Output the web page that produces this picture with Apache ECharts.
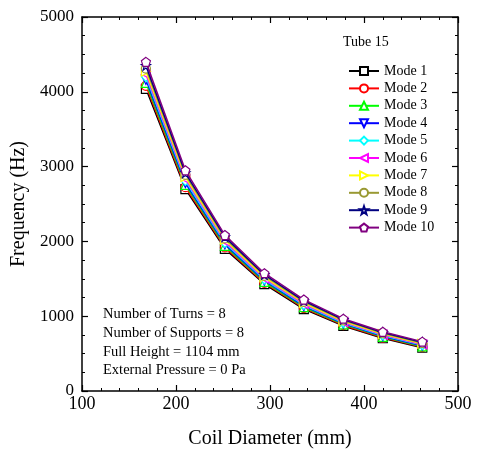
<!DOCTYPE html>
<html><head><meta charset="utf-8">
<script src="https://cdn.jsdelivr.net/npm/echarts@6/dist/echarts.min.js"></script>
<style>html,body{margin:0;padding:0;background:#fff}#c{width:477px;height:454px}</style>
</head><body><div id="c"></div>
<script>
var coilDiameter = [168, 210, 252, 294, 336, 378, 420, 462];
var mode1  = [4040, 2700, 1900, 1430, 1095, 870, 705, 578];
var mode2  = [4080, 2725, 1920, 1445, 1108, 880, 714, 587];
var mode3  = [4120, 2755, 1940, 1460, 1122, 891, 724, 596];
var mode4  = [4160, 2780, 1960, 1475, 1135, 901, 733, 605];
var mode5  = [4200, 2810, 1980, 1490, 1150, 912, 743, 614];
var mode6  = [4235, 2835, 2000, 1505, 1163, 923, 752, 623];
var mode7  = [4270, 2860, 2020, 1520, 1177, 933, 762, 632];
var mode8  = [4310, 2890, 2040, 1540, 1192, 944, 771, 641];
var mode9  = [4350, 2915, 2060, 1555, 1206, 955, 781, 650];
var mode10 = [4400, 2950, 2085, 1575, 1222, 967, 791, 660];
var seriesNames = ['Mode 1','Mode 2','Mode 3','Mode 4','Mode 5','Mode 6','Mode 7','Mode 8','Mode 9','Mode 10'];
var seriesValues = [mode1, mode2, mode3, mode4, mode5, mode6, mode7, mode8, mode9, mode10];
var xTicks = [100, 200, 300, 400, 500];
var yTicks = [0, 1000, 2000, 3000, 4000, 5000];
var infoLines = ['Number of Turns = 8', 'Number of Supports = 8', 'Full Height = 1104 mm', 'External Pressure = 0 Pa'];
var legendTitle = 'Tube 15';

var colors = ['#000000','#ff0000','#00ff00','#0000ff','#00ffff','#ff00ff','#ffff00','#999933','#000080','#800080'];
var symbols = [
  'rect', 'circle', 'triangle',
  'path://M-10,-8 L10,-8 L0,9 Z',
  'diamond',
  'path://M8,-10 L8,10 L-9,0 Z',
  'path://M-8,-10 L-8,10 L9,0 Z',
  'circle',
  'path://M0,-10 L2.35,-3.24 L9.51,-3.09 L3.8,1.24 L5.88,8.09 L0,4 L-5.88,8.09 L-3.8,1.24 L-9.51,-3.09 L-2.35,-3.24 Z',
  'path://M0,-10 L9.51,-3.09 L5.88,8.09 L-5.88,8.09 L-9.51,-3.09 Z'
];
var FONT = '"Liberation Serif", "Times New Roman", serif';

var series = seriesNames.map(function(n, i){
  return {
    name: n, type: 'line', xAxisIndex: 0, yAxisIndex: 0,
    data: coilDiameter.map(function(x, j){ return [x, seriesValues[i][j]]; }),
    symbol: symbols[i], symbolSize: 9, showAllSymbol: true,
    lineStyle: {color: colors[i], width: 1.5},
    itemStyle: {color: '#ffffff', borderColor: colors[i], borderWidth: 1.2},
    emphasis: {disabled: true}, animation: false, z: 2 + i
  };
});

function plain(v){ return String(v); }

function axisCommon(extra){
  var base = {
    type: 'value',
    axisLine: {show: true, onZero: false, lineStyle: {color: '#000', width: 1.5}},
    axisTick: {show: true, inside: true, length: 6, lineStyle: {color: '#000', width: 1.2}},
    minorTick: {show: true, length: 3, lineStyle: {color: '#000', width: 1}},
    splitLine: {show: false},
    axisLabel: {show: true, color: '#000', fontFamily: FONT, fontSize: 17, formatter: plain}
  };
  for (var k in extra) base[k] = extra[k];
  return base;
}

var chart = echarts.init(document.getElementById('c'), null, {renderer: 'canvas'});
chart.setOption({
  backgroundColor: '#fff',
  animation: false,
  grid: {left: 82, right: 19, top: 17, bottom: 58},
  xAxis: [
    axisCommon({min: xTicks[0], max: xTicks[xTicks.length-1], interval: 100, position: 'bottom',
      minorTick: {show: true, splitNumber: 5, length: 3, lineStyle: {color: '#000', width: 1}},
      axisLabel: {show: true, color: '#000', fontFamily: FONT, fontSize: 18, margin: 4, formatter: plain},
      name: 'Coil Diameter (mm)', nameLocation: 'middle', nameGap: 38,
      nameTextStyle: {fontFamily: FONT, fontSize: 20, color: '#000'}}),
    axisCommon({min: xTicks[0], max: xTicks[xTicks.length-1], interval: 100, position: 'top',
      minorTick: {show: true, splitNumber: 5, length: 3, lineStyle: {color: '#000', width: 1}},
      axisLabel: {show: false}})
  ],
  yAxis: [
    axisCommon({min: yTicks[0], max: yTicks[yTicks.length-1], interval: 1000, position: 'left',
      minorTick: {show: true, splitNumber: 4, length: 3, lineStyle: {color: '#000', width: 1}},
      axisLabel: {show: true, color: '#000', fontFamily: FONT, fontSize: 17, margin: 8, formatter: plain},
      name: 'Frequency (Hz)', nameLocation: 'middle', nameGap: 50,
      nameTextStyle: {fontFamily: FONT, fontSize: 20, color: '#000'}}),
    axisCommon({min: yTicks[0], max: yTicks[yTicks.length-1], interval: 1000, position: 'right',
      minorTick: {show: true, splitNumber: 4, length: 3, lineStyle: {color: '#000', width: 1}},
      axisLabel: {show: false}})
  ],
  legend: {
    orient: 'vertical', left: 343, top: 57.3,
    itemWidth: 30, itemHeight: 10, itemGap: 0,
    textStyle: {fontFamily: FONT, fontSize: 14, color: '#000', lineHeight: 17.4},
    data: seriesNames, selectedMode: false
  },
  graphic: [
    {type: 'text', left: 343, top: 35, style: {text: legendTitle, font: '14px ' + FONT, fill: '#000'}},
    {type: 'text', left: 103, top: 305, style: {text: infoLines.join('\n'), font: '14.5px ' + FONT, fill: '#000', lineHeight: 18.7}}
  ],
  series: series
});
</script></body></html>
